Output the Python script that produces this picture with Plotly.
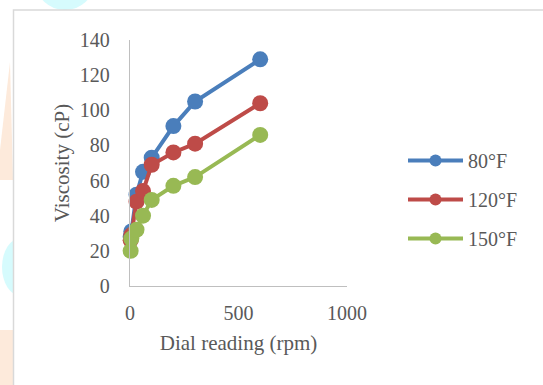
import plotly.graph_objects as go

rpm = [3, 6, 30, 60, 100, 200, 300, 600]
visc_80 = [28, 31, 52, 65, 73, 91, 105, 129]
visc_120 = [26, 29, 48, 54, 69, 76, 81, 104]
visc_150 = [20, 27, 32, 40, 49, 57, 62, 86]
series_names = ["80°F", "120°F", "150°F"]
colors = ["#4a7ebb", "#be4b48", "#98b954"]

W, H = 543, 385
L, R, T, B = 130, 196, 40, 99
pw, ph = W - L - R, H - T - B


def px(x):
    return (x - L) / pw


def py(y):
    return (H - B - y) / ph


fig = go.Figure()
for name, vals, c in zip(series_names, [visc_80, visc_120, visc_150], colors):
    fig.add_trace(go.Scatter(x=rpm, y=vals, mode="lines+markers", name=name,
                             line=dict(color=c, width=4),
                             marker=dict(color=c, size=16),
                             showlegend=False, cliponaxis=False))
for i, (name, c) in enumerate(zip(series_names, colors)):
    fig.add_trace(go.Scatter(x=[None], y=[None], mode="lines+markers", name=name,
                             line=dict(color=c, width=4),
                             marker=dict(color=c, size=12),
                             legendgroup=f"g{i}", showlegend=True))

shapes = []
# faint background watermark shapes
shapes.append(dict(type="circle", xref="paper", yref="paper",
                   x0=px(36), x1=px(94), y0=py(-45), y1=py(10),
                   fillcolor="#d6fbfd", line=dict(width=0), layer="below"))
shapes.append(dict(type="circle", xref="paper", yref="paper",
                   x0=px(2), x1=px(40), y0=py(238), y1=py(296),
                   fillcolor="#d6fbfd", line=dict(width=0), layer="below"))
shapes.append(dict(type="path", xref="paper", yref="paper",
                   path=f"M {px(0)},{py(180)} L {px(13)},{py(180)} L {px(10)},{py(62)} L {px(0)},{py(150)} Z",
                   fillcolor="#fdeadb", line=dict(width=0), layer="below"))
shapes.append(dict(type="rect", xref="paper", yref="paper",
                   x0=px(0), x1=px(13), y0=py(385), y1=py(330),
                   fillcolor="#fdeadb", line=dict(width=0), layer="below"))
# chart frame
shapes.append(dict(type="rect", xref="paper", yref="paper",
                   x0=px(13.5), x1=px(570), y0=py(10), y1=py(420),
                   fillcolor="white", line=dict(color="#d9d9d9", width=1.5), layer="below"))

tick_font = dict(family="Liberation Serif", size=20, color="#595959")
title_font = dict(family="Liberation Serif", size=21, color="#595959")

fig.update_layout(
    width=W, height=H,
    margin=dict(l=L, r=R, t=T, b=B),
    paper_bgcolor="white", plot_bgcolor="rgba(0,0,0,0)",
    font=dict(family="Liberation Serif", size=20, color="#595959"),
    shapes=shapes,
    showlegend=True,
    legend=dict(x=px(403), y=py(141), xanchor="left", yanchor="top",
                itemwidth=55, tracegroupgap=10, traceorder="grouped",
                font=dict(family="Liberation Serif", size=20, color="#595959"),
                bgcolor="rgba(0,0,0,0)"),
    xaxis=dict(range=[0, 1000], tickvals=[0, 500, 1000], showgrid=False,
               zeroline=False, showline=True, linecolor="#bfbfbf", linewidth=1.3,
               ticks="", ticklabelstandoff=9, tickfont=tick_font,
               title=dict(text="Dial reading (rpm)", standoff=12, font=title_font)),
    yaxis=dict(range=[0, 140], tickvals=list(range(0, 141, 20)), showgrid=False,
               zeroline=False, showline=True, linecolor="#bfbfbf", linewidth=1.3,
               ticks="", ticklabelstandoff=15, tickfont=tick_font,
               title=dict(text="Viscosity (cP)", standoff=4, font=title_font)),
)

fig.write_html("out.html")
